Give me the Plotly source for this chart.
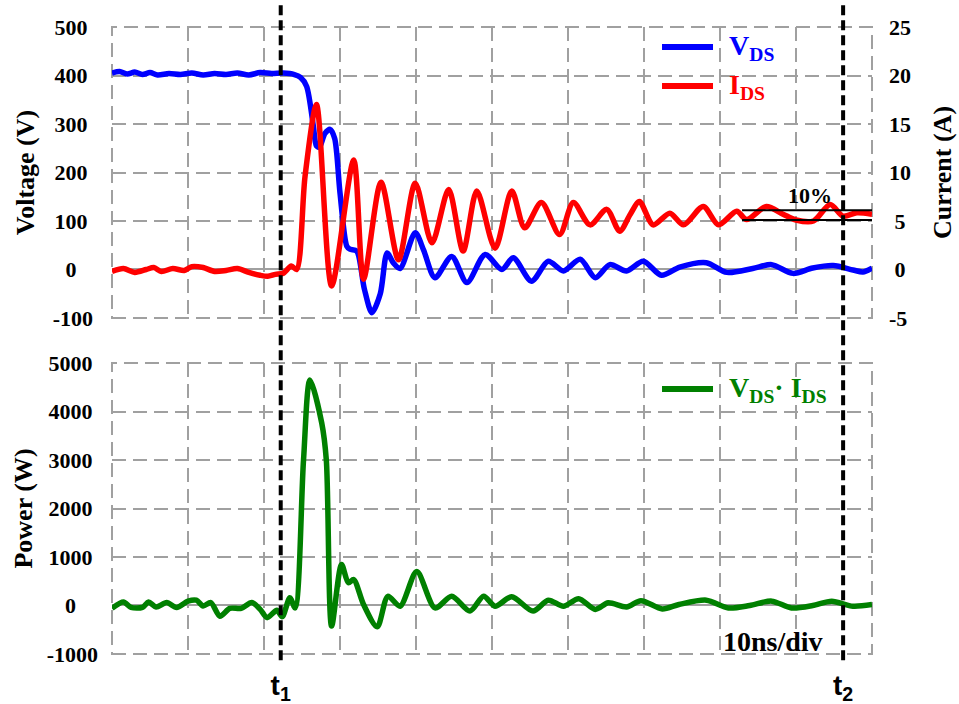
import plotly.graph_objects as go

# ---------------- data ----------------
t_v = [0, 1.0, 2.0, 3.0, 4.0, 5.0, 6.0, 7.5, 9.0, 10.5, 12.0, 13.5, 15.0, 16.5, 18.0,
       19.5, 21.0, 22.5, 24.0, 24.8, 25.6, 26.5, 26.9, 27.3, 28.0, 28.7, 29.3, 30.0,
       30.9, 31.3, 32.2, 33.2, 34.2, 35.3, 36.2, 37.0, 37.9, 39.9, 41.0, 42.5, 44.7,
       46.7, 49.1, 51.3, 52.8, 55.2, 57.4, 59.4, 61.6, 63.6, 65.5, 67.7, 69.9, 72.3,
       74.7, 78.2, 80.9, 84.3, 86.8, 89.6, 92.2, 94.9, 97.5, 98.8, 100]
v_ds = [405, 408, 403, 407, 402, 406, 401, 404, 402, 405, 401, 404, 402, 405, 401,
        406, 404, 405, 402, 396, 378, 295, 255, 252, 280, 289, 270, 158,
        48, 42, 38, -40, -89, -50, 34, 14, 2, 76, 40, -17, 27,
        -27, 31, 0, 24, -24, 17, -3, 21, -17, 10, -3, 17, -12,
        5, 14, -6, 2, 10, -8, 3, 8, -1, -5, 3]

t_i = [0, 1.5, 3.0, 4.5, 5.5, 6.5, 8.0, 9.5, 10.5, 12.0, 13.5, 15.0, 16.5, 18.0,
       19.5, 20.5, 21.5, 22.5, 23.6, 24.3, 25.4, 26.9, 28.9, 31.8, 33.1, 35.4, 37.7,
       39.9, 42.1, 44.3, 46.2, 48.0, 50.4, 52.6, 54.3, 56.5, 58.9, 60.7, 62.9, 65.1,
       66.8, 68.2, 69.4, 71.2, 73.4, 75.2, 77.8, 79.8, 82.2, 83.5, 86.1, 88.3, 90.0,
       92.3, 94.5, 96.2, 98.0, 100]
i_ds = [-0.2, 0.1, -0.3, 0.0, 0.2, -0.2, 0.1, -0.1, 0.3, 0.2, -0.2, -0.1, 0.1, -0.3,
        -0.6, -0.7, -0.5, -0.4, 0.35, 0.0, 9.6, 17.0, -1.7, 11.3, -1.0, 9.0, 1.0,
        8.9, 2.75, 8.25, 1.9, 8.1, 2.2, 8.1, 4.3, 6.9, 3.6, 6.9, 4.6, 6.2,
        3.95, 5.7, 7.0, 4.6, 5.8, 4.6, 6.5, 4.6, 6.0, 5.15, 6.5, 5.7, 5.1,
        5.0, 6.7, 5.5, 5.85, 5.7]

t_p = [0, 1.5, 2.5, 4.0, 4.8, 5.8, 7.2, 8.5, 10.0, 11.1, 12.0, 13.0, 14.2, 15.5, 17.0,
       18.4, 19.5, 20.4, 21.7, 22.4, 23.4, 24.1, 25.2, 26.05, 27.6, 28.2, 28.9, 30.2,
       31.1, 31.8, 33.1, 34.9, 36.3, 37.9, 40.1, 42.5, 44.7, 47.1, 48.9, 50.4, 52.6,
       55.4, 57.4, 59.4, 61.4, 63.6, 65.3, 67.7, 69.6, 72.4, 74.6, 78.2, 81.1, 83.9,
       86.8, 89.4, 92.2, 94.7, 97.5, 100]
p_ds = [-60, 70, -40, -40, 70, -30, 60, -40, 90, 110, -10, 60, -220, -60, -60,
        60, -80, -250, -100, -230, 160, -50, 3000, 4650, 3760, 3000, -425, 845,
        470, 535, 20, -440, 190, -15, 700, -50, 190, -115, 190, -15, 180,
        -115, 110, -15, 140, -80, 55, -30, 100, -70, 20, 110, -50, 0,
        90, -50, 0, 90, -15, 20]

t1 = 22.2
t2 = 96.2
band_lo = 5.1
band_hi = 6.1
band_start = 82.9

volt_vals = [-100, 0, 100, 200, 300, 400, 500]
volt_text = ["-100", "0   ", "100 ", "200 ", "300 ", "400 ", "500 "]
curr_vals = [-5, 0, 5, 10, 15, 20, 25]
curr_text = ["-5", " 0", " 5", "10", "15", "20", "25"]
pow_vals = [-1000, 0, 1000, 2000, 3000, 4000, 5000]
pow_text = ["-1000", "0    ", "1000 ", "2000 ", "3000 ", "4000 ", "5000 "]

# ---------------- figure ----------------
SERIF = "Liberation Serif"
SANS = "Liberation Sans"
GRID = "#a0a0a0"
DASH = "14px,7px"
LW = 5.5

fig = go.Figure()
fig.add_trace(go.Scatter(x=t_v, y=v_ds, mode="lines", xaxis="x", yaxis="y",
                         line=dict(color="#0000ff", width=LW, shape="spline", smoothing=0.8),
                         showlegend=False))
fig.add_trace(go.Scatter(x=t_i, y=i_ds, mode="lines", xaxis="x", yaxis="y2",
                         line=dict(color="#ff0000", width=LW, shape="spline", smoothing=0.8),
                         showlegend=False))
fig.add_trace(go.Scatter(x=t_p, y=p_ds, mode="lines", xaxis="x2", yaxis="y3",
                         line=dict(color="#008000", width=LW, shape="spline", smoothing=0.8),
                         showlegend=False))

tickfont = dict(family=SERIF, size=22, color="black", weight="bold")
titlefont = dict(family=SERIF, size=26, color="black", weight="bold")

top_dom = [0.5359, 1.0]
bot_dom = [0.0, 0.4641]

fig.update_layout(
    width=959, height=704,
    margin=dict(l=112, r=87, t=27, b=50, pad=0),
    paper_bgcolor="white", plot_bgcolor="white",
    showlegend=False,
    xaxis=dict(domain=[0, 1], anchor="y", range=[0, 100], tick0=0, dtick=10,
               showticklabels=False, ticks="", showline=False, zeroline=False,
               automargin=False,
               showgrid=True, gridcolor=GRID, gridwidth=2, griddash=DASH),
    xaxis2=dict(domain=[0, 1], anchor="y3", range=[0, 100], matches="x",
                tickmode="array", tickvals=[t1, t2],
                ticktext=["t<sub>1</sub>", "t<sub>2</sub>"],
                tickfont=dict(family=SANS, size=28, color="black", weight="bold"),
                ticks="", ticklabelstandoff=12, showline=False, zeroline=False,
                showgrid=False, automargin=False,
                minor=dict(tick0=0, dtick=10, showgrid=True, gridcolor=GRID,
                           gridwidth=2, griddash=DASH, ticks="")),
    yaxis=dict(domain=top_dom, anchor="x", range=[-100, 500],
               tickmode="array", tickvals=volt_vals, ticktext=volt_text,
               tickfont=tickfont, ticks="", ticklabelstandoff=18, automargin=False,
               showgrid=True, gridcolor=GRID, gridwidth=2, griddash=DASH,
               zeroline=True, zerolinecolor=GRID, zerolinewidth=2, showline=False,
               title=dict(text="Voltage (V)", font=titlefont, standoff=10)),
    yaxis2=dict(overlaying="y", side="right", anchor="x", range=[-5, 25],
                tickmode="array", tickvals=curr_vals, ticktext=curr_text,
                tickfont=tickfont, ticks="", ticklabelstandoff=16, automargin=False,
                showgrid=False, zeroline=False, showline=False,
                title=dict(text="Current (A)", font=titlefont, standoff=22)),
    yaxis3=dict(domain=bot_dom, anchor="x2", range=[-1000, 5000],
                tickmode="array", tickvals=pow_vals, ticktext=pow_text,
                tickfont=tickfont, ticks="", ticklabelstandoff=13, automargin=False,
                showgrid=True, gridcolor=GRID, gridwidth=2, griddash=DASH,
                zeroline=True, zerolinecolor=GRID, zerolinewidth=2, showline=False,
                title=dict(text="Power (W)", font=titlefont, standoff=6)),
)

# dashed frame round each panel (matches the dashed grid)
for xr, yr in (("x domain", "y domain"), ("x2 domain", "y3 domain")):
    fig.add_shape(type="rect", xref=xr, yref=yr, x0=0, x1=1, y0=0, y1=1,
                  line=dict(color=GRID, width=2, dash=DASH), fillcolor="rgba(0,0,0,0)",
                  layer="below")

# t1 / t2 dashed markers spanning both panels
for tv in (t1, t2):
    fig.add_shape(type="line", xref="x", yref="paper", x0=tv, x1=tv, y0=-0.01, y1=1.036,
                  line=dict(color="black", width=4, dash="10px,5px"), layer="above")

# 10% band lines on the current axis
for lv in (band_lo, band_hi):
    fig.add_shape(type="line", xref="x", yref="y2", x0=band_start, x1=100, y0=lv, y1=lv,
                  line=dict(color="black", width=2), layer="above")

fig.add_annotation(x=91.8, y=7.6, xref="x", yref="y2", text="10%", showarrow=False,
                   font=dict(family=SERIF, size=22, color="black", weight="bold"))
fig.add_annotation(x=87.0, y=-740, xref="x2", yref="y3", text="10ns/div", showarrow=False,
                   font=dict(family=SERIF, size=28, color="black", weight="bold"))

# legends (line samples + coloured labels)
leg = [("#0000ff", 0.9681, "V<sub>DS</sub>"),
       ("#ff0000", 0.9059, "I<sub>DS</sub>"),
       ("#008000", 0.4226, "V<sub>DS</sub>· I<sub>DS</sub>")]
for col, yy, txt in leg:
    fig.add_shape(type="line", xref="paper", yref="paper", x0=0.7237, x1=0.7908,
                  y0=yy, y1=yy, line=dict(color=col, width=6))
    fig.add_annotation(x=0.8092, y=yy, xref="paper", yref="paper", text=txt,
                       showarrow=False, xanchor="left", yanchor="middle",
                       font=dict(family=SERIF, size=28, color=col, weight="bold"))

fig.write_html("out.html")
